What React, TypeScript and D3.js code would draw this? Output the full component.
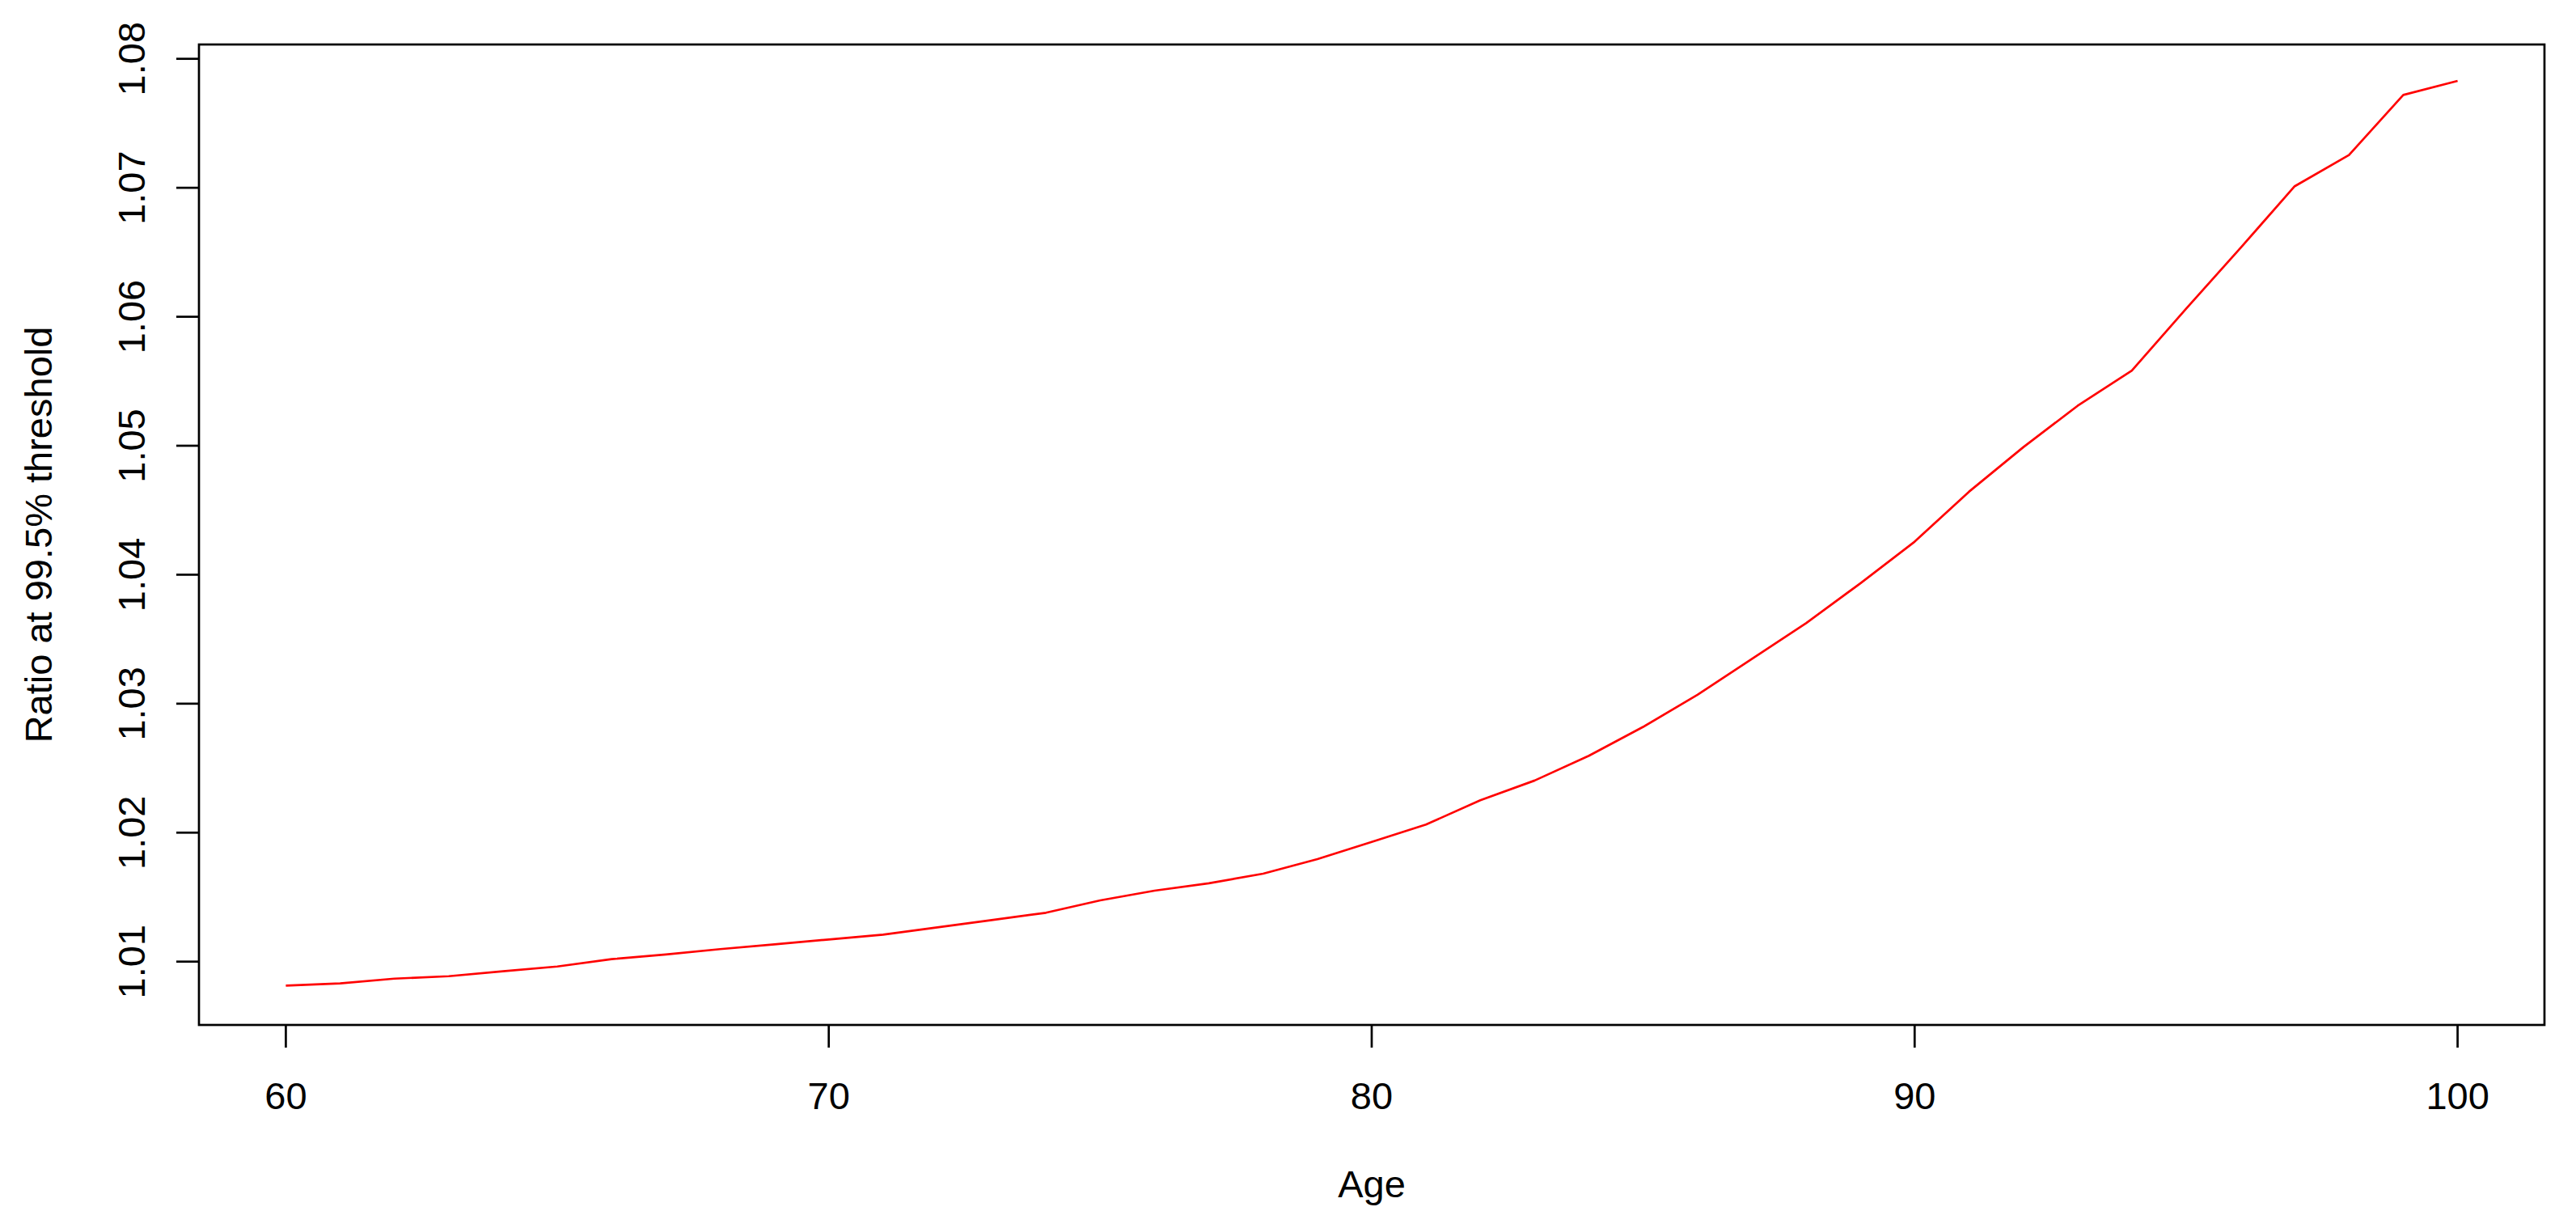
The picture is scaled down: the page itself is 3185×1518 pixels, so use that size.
import React from "react";
import * as d3 from "d3";

const ages: number[] = [
  60, 61, 62, 63, 64, 65, 66, 67, 68, 69, 70, 71, 72, 73, 74, 75, 76, 77, 78, 79,
  80, 81, 82, 83, 84, 85, 86, 87, 88, 89, 90, 91, 92, 93, 94, 95, 96, 97, 98, 99, 100,
];
const ratios: number[] = [
  1.00814, 1.00831, 1.00868, 1.00887, 1.00925, 1.00962, 1.01019, 1.01056, 1.01097, 1.01134,
  1.01172, 1.01209, 1.01266, 1.01322, 1.01379, 1.01475, 1.0155, 1.01607, 1.01682, 1.01795,
  1.01928, 1.02063, 1.02251, 1.02404, 1.02596, 1.0282, 1.03069, 1.03346, 1.03624, 1.03933,
  1.04256, 1.04643, 1.04988, 1.05309, 1.05582, 1.06062, 1.06533, 1.07012, 1.07254, 1.0772,
  1.07829,
];
const xTicks: number[] = [60, 70, 80, 90, 100];
const yTicks: number[] = [1.01, 1.02, 1.03, 1.04, 1.05, 1.06, 1.07, 1.08];
const xTitle = "Age";
const yTitle = "Ratio at 99.5% threshold";

const W = 3185;
const H = 1518;
const box = { left: 246, right: 3146, top: 55, bottom: 1267 };
const FONT = "'Liberation Sans', Arial, sans-serif";
const FS = 47;
const LW = 2.7;
const TICK = 28;

export default function App() {
  const x = d3.scaleLinear().domain([58.4, 101.6]).range([box.left, box.right]);
  const y = d3.scaleLinear().domain([1.00509, 1.08111]).range([box.bottom, box.top]);
  const pts: [number, number][] = ages.map((a, i) => [a, ratios[i]]);
  const line = d3
    .line<[number, number]>()
    .x((d) => x(d[0]))
    .y((d) => y(d[1]));

  return (
    <svg
      width={W}
      height={H}
      viewBox={`0 0 ${W} ${H}`}
      style={{ position: "absolute", left: 0, top: 0, background: "#fff" }}
    >
      <rect x={0} y={0} width={W} height={H} fill="#fff" />
      <path d={line(pts) || ""} fill="none" stroke="#ff0000" strokeWidth={LW} strokeLinejoin="round" />
      <rect
        x={box.left}
        y={box.top}
        width={box.right - box.left}
        height={box.bottom - box.top}
        fill="none"
        stroke="#000"
        strokeWidth={LW}
      />
      {xTicks.map((t) => (
        <g key={"x" + t}>
          <line x1={x(t)} x2={x(t)} y1={box.bottom} y2={box.bottom + TICK} stroke="#000" strokeWidth={LW} />
          <text x={x(t)} y={1371} textAnchor="middle" fontFamily={FONT} fontSize={FS} fill="#000">
            {t}
          </text>
        </g>
      ))}
      {yTicks.map((t) => (
        <g key={"y" + t}>
          <line x1={box.left - TICK} x2={box.left} y1={y(t)} y2={y(t)} stroke="#000" strokeWidth={LW} />
          <text
            transform={`translate(179, ${y(t)}) rotate(-90)`}
            textAnchor="middle"
            fontFamily={FONT}
            fontSize={FS}
            fill="#000"
          >
            {t.toFixed(2)}
          </text>
        </g>
      ))}
      <text
        x={(box.left + box.right) / 2}
        y={1480}
        textAnchor="middle"
        fontFamily={FONT}
        fontSize={FS}
        fill="#000"
      >
        {xTitle}
      </text>
      <text
        transform={`translate(64, ${(box.top + box.bottom) / 2}) rotate(-90)`}
        textAnchor="middle"
        fontFamily={FONT}
        fontSize={FS}
        fill="#000"
      >
        {yTitle}
      </text>
    </svg>
  );
}
